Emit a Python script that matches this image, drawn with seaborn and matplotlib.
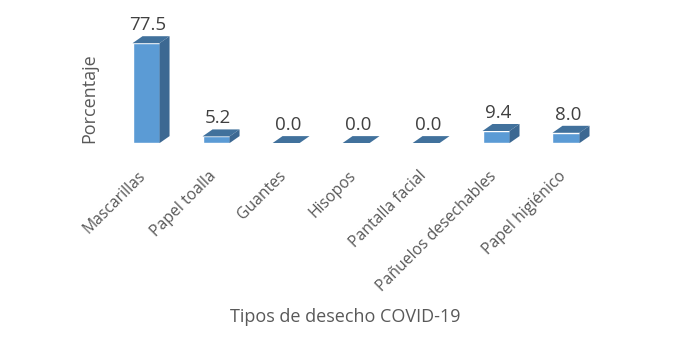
import matplotlib
matplotlib.use('Agg')
import matplotlib.pyplot as plt
import matplotlib.transforms as mtransforms
from matplotlib.patches import Polygon
import pandas as pd
import seaborn as sns

# datos
categorias = ['Mascarillas', 'Papel toalla', 'Guantes', 'Hisopos',
              'Pantalla facial', 'Pañuelos desechables', 'Papel higiénico']
porcentajes = [77.5, 5.2, 0.0, 0.0, 0.0, 9.4, 8.0]

df = pd.DataFrame({'tipo': categorias, 'pct': porcentajes})

sns.set_theme(style='white')
plt.rcParams['font.family'] = ['Open Sans', 'DejaVu Sans']

gris = '#595959'
frente = '#5B9BD5'
lado = '#3C6892'
tapa = '#41719C'

fig = plt.figure(figsize=(6.94, 3.56), dpi=100)
ax = fig.add_axes([0.160, 0.598, 0.706, 0.344])

sns.barplot(data=df, x='tipo', y='pct', color=frente, width=0.386,
            saturation=1, ax=ax, zorder=3)

ax.set_xlim(-0.5, 6.5)
ax.set_ylim(0, 95)

# profundidad 3D en pixeles
dx, dy = 10 / 100, 7 / 100
desplazar = ax.transData + mtransforms.ScaledTranslation(dx, dy, fig.dpi_scale_trans)
ident = mtransforms.IdentityTransform()
for p in list(ax.patches):
    x0, w, h = p.get_x(), p.get_width(), p.get_height()
    # cara superior
    a = ax.transData.transform([(x0, h), (x0 + w, h)])
    b = desplazar.transform([(x0 + w, h), (x0, h)])
    ax.add_patch(Polygon(list(a) + list(b), closed=True, facecolor=tapa,
                         edgecolor='none', transform=ident, zorder=4))
    # cara lateral
    if h > 0:
        a = ax.transData.transform([(x0 + w, 0), (x0 + w, h)])
        b = desplazar.transform([(x0 + w, h), (x0 + w, 0)])
        ax.add_patch(Polygon(list(a) + list(b), closed=True, facecolor=lado,
                             edgecolor='none', transform=ident, zorder=4))
    # etiqueta de valor
    ax.annotate(f'{h:.1f}', (x0 + w / 2, h), xytext=(1.5, 9.5),
                textcoords='offset points', ha='center', va='baseline',
                fontsize=13.5, color='#404040', zorder=5)

ax.set_yticks([])
sns.despine(ax=ax, left=True, bottom=True)
ax.tick_params(axis='x', length=0, pad=18)
ax.set_xticks(range(len(categorias)))
ax.set_xticklabels(categorias, rotation=45, ha='right', rotation_mode='anchor',
                   fontsize=11.3, color=gris)
corrimiento = mtransforms.ScaledTranslation(-0.08, 0, fig.dpi_scale_trans)
for lbl in ax.get_xticklabels():
    lbl.set_transform(lbl.get_transform() + corrimiento)
ax.set_ylabel('Porcentaje', fontsize=13, color=gris)
ax.set_xlabel('Tipos de desecho COVID-19', fontsize=13, color=gris)
ax.xaxis.set_label_coords(0.478, -1.35)
ax.yaxis.set_label_coords(-0.027, 0.37)

fig.savefig('out.png', dpi=100)
